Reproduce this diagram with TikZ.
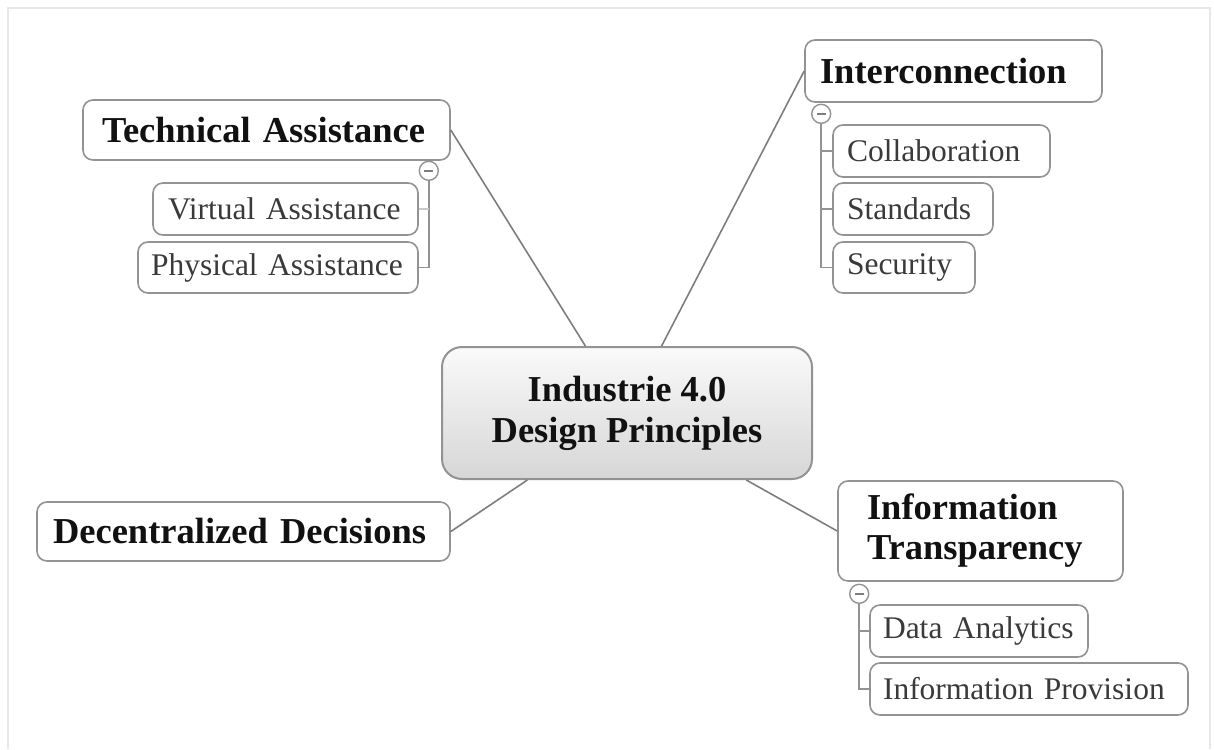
\documentclass[tikz,border=0pt]{standalone}
\usepackage{fontspec}
\setmainfont{Liberation Serif}
\usetikzlibrary{calc}
\definecolor{boxline}{HTML}{939393}
\definecolor{conline}{HTML}{7E7E7E}
\definecolor{subtext}{HTML}{3A3A3A}
\definecolor{maintext}{HTML}{111111}
\tikzset{
  box/.style={draw=boxline, line width=1.6pt, rounded corners=10pt, fill=white, inner ysep=0pt},
  mainbox/.style={box, font=\bfseries\fontsize{36.5}{40}\selectfont, text=maintext},
  subbox/.style={box, font=\fontsize{31.5}{36}\selectfont, text=subtext},
  conn/.style={draw=conline, line width=1.6pt},
  tree/.style={draw=boxline, line width=1.5pt},
  minusnode/.style={circle, draw=boxline, line width=1.4pt, minimum size=19pt, inner sep=0pt, fill=white,
    path picture={\draw[line width=1.8pt, conline] ([xshift=-4.5pt]path picture bounding box.center) -- ([xshift=4.5pt]path picture bounding box.center);}},
}
\begin{document}
\begin{tikzpicture}[x=1pt, y=-1pt]
\useasboundingbox (0,0) rectangle (1214,749);
\fill[white] (0,0) rectangle (1214,749);
\draw[gray!18, line width=1.5pt] (8,749) -- (8,8) -- (1210,8) -- (1210,749);

% central node
\node[draw=boxline, line width=2pt, rounded corners=20pt, top color=gray!4, bottom color=gray!32,
      minimum width=370pt, minimum height=132pt, align=center, inner sep=0pt,
      font=\bfseries\fontsize{36.5}{41}\selectfont, text=maintext] (C) at (627,413)
      {Industrie 4.0\\Design Principles};

% main branches
\node[mainbox, minimum width=367pt, minimum height=60pt, inner xsep=19pt, text width=329pt, align=left] (TA) at (266.5,130) {Technical Assistance};
\node[mainbox, minimum width=297pt, minimum height=62pt, inner xsep=15pt, text width=267pt, align=left] (IC) at (953.5,71) {Interconnection};
\node[mainbox, minimum width=285pt, minimum height=100pt, inner xsep=29pt, text width=227pt, align=left] (IT) at (980.5,531) {Information\\Transparency};
\node[mainbox, minimum width=413pt, minimum height=59pt, inner xsep=16pt, text width=381pt, align=left] (DD) at (243.5,531.5) {Decentralized Decisions};

% connectors
\draw[conn] (C) -- (TA.east);
\draw[conn] (C) -- (IC.west);
\draw[conn] (C) -- (DD.east);
\draw[conn] (C) -- (IT.west);

% sub-items: Technical Assistance
\node[subbox, minimum width=265pt, minimum height=52pt, inner xsep=15pt, text width=235pt, align=left] (VA) at (285.5,209) {Virtual Assistance};
\node[subbox, minimum width=280pt, minimum height=51pt, inner xsep=13pt, text width=254pt, align=left] (PA) at (278,267.5) {Physical Assistance};
\node[minusnode] (m1) at ($(TA.south east)+(-22,10)$) {};
\draw[tree] (m1.south) |- (PA.east);
\draw[tree, draw=boxline!50] (VA.east) -- (VA.east -| m1.south);

% sub-items: Interconnection
\node[subbox, minimum width=217pt, minimum height=52pt, inner xsep=14pt, text width=189pt, align=left] (Col) at (941.5,151) {Collaboration};
\node[subbox, minimum width=160pt, minimum height=52pt, inner xsep=14pt, text width=132pt, align=left] (Std) at (913,209) {Standards};
\node[subbox, minimum width=142pt, minimum height=51pt, inner xsep=14pt, text width=114pt, align=left] (Sec) at (904,267.5) {Security};
\node[minusnode] (m2) at ($(IC.south west)+(17,11)$) {};
\draw[tree] (m2.south) |- (Sec.west);
\draw[tree] (Col.west) -- (Col.west -| m2.south);
\draw[tree] (Std.west) -- (Std.west -| m2.south);

% sub-items: Information Transparency
\node[subbox, minimum width=218pt, minimum height=52pt, inner xsep=13pt, text width=192pt, align=left] (DA) at (979,631) {Data Analytics};
\node[subbox, minimum width=318pt, minimum height=52pt, inner xsep=13pt, text width=292pt, align=left] (IP) at (1029,689) {Information Provision};
\node[minusnode] (m3) at ($(IT.south west)+(22,12)$) {};
\draw[tree] (m3.south) |- (IP.west);
\draw[tree] (DA.west) -- (DA.west -| m3.south);
\end{tikzpicture}
\end{document}
